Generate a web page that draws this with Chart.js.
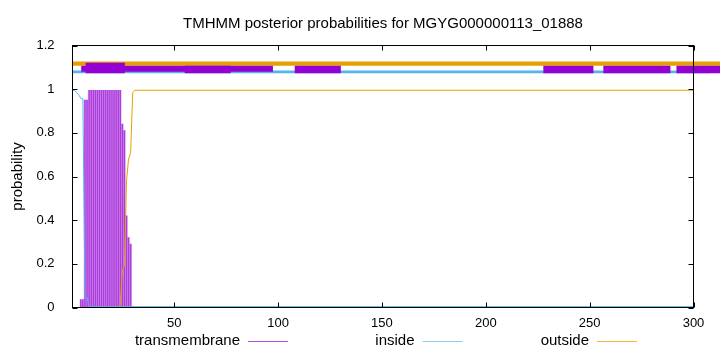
<!DOCTYPE html>
<html>
<head>
<meta charset="utf-8">
<script src="https://cdn.jsdelivr.net/npm/chart.js@4.4.0/dist/chart.umd.min.js"></script>
<style>
  html, body { margin: 0; padding: 0; background: #fff; }
  #wrap { width: 720px; height: 352px; }
</style>
</head>
<body>
<div id="wrap"><canvas id="myChart" width="720" height="352"></canvas></div>
<script>
// teks
const chartTitle = 'TMHMM posterior probabilities for MGYG000000113_01888';
const yTitle = 'probability';
const xTicks = [50, 100, 150, 200, 250, 300];
const yTicks = [0, 0.2, 0.4, 0.6, 0.8, 1, 1.2];

// posterior per residue
const tmResidues = [5, 6, 7, 8, 9, 10, 11, 12, 13, 14, 15, 16, 17, 18, 19, 20, 21, 22, 23, 24, 25, 26, 27, 28, 29, 30];
const tmProb = [0.036, 0.036, 0.95, 0.95, 0.995, 0.995, 0.995, 0.995, 0.995, 0.995, 0.995, 0.995, 0.995, 0.995, 0.995, 0.995, 0.995, 0.995, 0.995, 0.995, 0.84, 0.81, 0.42, 0.32, 0.29, 0.005];
const insideResidues = [1, 2, 3, 4, 5, 6, 7, 8, 9, 300];
const insideProb = [0.995, 0.993, 0.985, 0.975, 0.958, 0.955, 0.045, 0.045, 0.004, 0.004];
const outsideResidues = [1, 23, 24, 25, 26, 27, 28, 29, 30, 31, 300];
const outsideProb = [0, 0, 0.01, 0.17, 0.19, 0.58, 0.68, 0.71, 0.985, 0.995, 0.995];

// topologi prediksi di bagian atas (awal, akhir)
const outsideSegments = [[1, 313]];
const insideSegments = [[1, 308]];
const tmCoreSegments = [[7.3, 26.2]];
const tmThinSegments = [[5.2, 97.5]];
const tmSegments = [[55, 77.2], [108, 130.2], [227.7, 251.8], [256.6, 288.9], [291.8, 313]];

// tinggi garis topologi
const outsideLevel = 1.117;
const insideLevel = 1.079;
const tmLevel = 1.09;
const tmThinLevel = 1.093;
const tmCoreLevel = 1.097;

const purple = '#9400d3';
const blue = '#56b4e9';
const orange = '#e69f00';
const font = { family: "'Liberation Sans', Arial, sans-serif", size: 13 };
const bigFont = "15px 'Liberation Sans', Arial, sans-serif";

function toPoints(xs, ys) {
  return xs.map((x, i) => ({ x: x, y: ys[i] }));
}

function segmentPoints(segs, level) {
  const pts = [];
  segs.forEach(s => {
    pts.push({ x: s[0], y: level }, { x: s[1], y: level }, { x: s[1], y: null });
  });
  return pts;
}

function bandLine(segs, level, color, width, order) {
  return {
    type: 'line',
    data: segmentPoints(segs, level),
    borderColor: color,
    borderWidth: width,
    pointRadius: 0,
    spanGaps: false,
    clip: false,
    order: order,
  };
}

// bingkai, tick ke dalam, judul dan legenda
const framePlugin = {
  id: 'frame',
  afterDatasetsDraw(chart) {
    const { ctx, chartArea: a, scales: { x, y } } = chart;
    ctx.save();
    ctx.strokeStyle = '#000';
    ctx.lineWidth = 1;
    ctx.strokeRect(a.left, a.top, a.right - a.left, a.bottom - a.top);
    ctx.beginPath();
    xTicks.forEach(v => {
      const p = Math.round(x.getPixelForValue(v)) + 0.5;
      ctx.moveTo(p, a.bottom); ctx.lineTo(p, a.bottom - 5);
      ctx.moveTo(p, a.top); ctx.lineTo(p, a.top + 5);
    });
    yTicks.forEach(v => {
      const p = Math.round(y.getPixelForValue(v)) + 0.5;
      ctx.moveTo(a.left, p); ctx.lineTo(a.left + 5, p);
      ctx.moveTo(a.right, p); ctx.lineTo(a.right - 5, p);
    });
    ctx.stroke();
    ctx.restore();
  },
  afterDraw(chart) {
    const { ctx, chartArea: a } = chart;
    ctx.save();
    ctx.fillStyle = '#000';
    ctx.font = bigFont;
    ctx.textAlign = 'center';
    ctx.textBaseline = 'middle';
    ctx.fillText(chartTitle, (a.left + a.right) / 2, 24);

    const items = [
      { label: 'transmembrane', color: '#b050e0' },
      { label: 'inside', color: '#8ccdf0' },
      { label: 'outside', color: '#f0b840' },
    ];
    ctx.textAlign = 'right';
    items.forEach((it, i) => {
      const tx = 240 + i * 174.5;
      ctx.fillStyle = '#000';
      ctx.fillText(it.label, tx, 341);
      ctx.strokeStyle = it.color;
      ctx.lineWidth = 1;
      ctx.beginPath();
      ctx.moveTo(tx + 8, 341.5);
      ctx.lineTo(tx + 48, 341.5);
      ctx.stroke();
    });
    ctx.restore();
  }
};

const ctx = document.getElementById('myChart').getContext('2d');

const myChart = new Chart(ctx, {
  type: 'bar',
  data: {
    datasets: [
      {
        type: 'line',
        label: 'outside',
        data: toPoints(outsideResidues, outsideProb),
        borderColor: orange,
        borderWidth: 1,
        pointRadius: 0,
        order: 1,
      },
      {
        type: 'line',
        label: 'inside',
        data: toPoints(insideResidues, insideProb),
        borderColor: blue,
        borderWidth: 1,
        pointRadius: 0,
        order: 2,
      },
      {
        type: 'bar',
        label: 'transmembrane',
        data: toPoints(tmResidues, tmProb),
        backgroundColor: 'rgba(148, 0, 211, 0.7)',
        barThickness: 0.9,
        grouped: false,
        order: 3,
      },
      {
        type: 'bar',
        data: toPoints(tmResidues, tmProb),
        backgroundColor: 'rgba(148, 0, 211, 0.22)',
        barThickness: 2.07,
        grouped: false,
        order: 4,
      },
      bandLine(tmCoreSegments, tmCoreLevel, purple, 10.5, 5),
      bandLine(tmSegments, tmLevel, purple, 7.5, 6),
      bandLine(tmThinSegments, tmThinLevel, purple, 6, 7),
      bandLine(insideSegments, insideLevel, blue, 2.6, 8),
      bandLine(outsideSegments, outsideLevel, orange, 4.3, 9),
    ],
  },
  options: {
    responsive: false,
    animation: false,
    devicePixelRatio: 1,
    events: [],
    layout: { padding: { top: 45.5, right: 26.5, bottom: 0, left: 0 } },
    plugins: {
      legend: { display: false },
      tooltip: { enabled: false },
      title: { display: false },
    },
    scales: {
      x: {
        type: 'linear',
        min: 1,
        max: 300,
        offset: false,
        grid: { display: false, drawTicks: false },
        border: { display: false },
        ticks: { font: font, color: '#000', padding: 8, maxRotation: 0, autoSkip: false },
        afterBuildTicks: s => { s.ticks = xTicks.map(v => ({ value: v })); },
        afterFit: s => { s.height = 44.5; },
      },
      y: {
        min: 0,
        max: 1.2,
        grid: { display: false, drawTicks: false },
        border: { display: false },
        ticks: {
          font: font,
          color: '#000',
          padding: 18,
          callback: v => String(+(+v).toFixed(1)),
        },
        afterBuildTicks: s => { s.ticks = yTicks.map(v => ({ value: v })); },
        title: {
          display: true,
          text: yTitle,
          color: '#000',
          font: { family: font.family, size: 15 },
          padding: { top: 9, bottom: 0 },
        },
        afterFit: s => { s.width = 72.5; },
      },
    },
  },
  plugins: [framePlugin],
});
</script>
</body>
</html>
